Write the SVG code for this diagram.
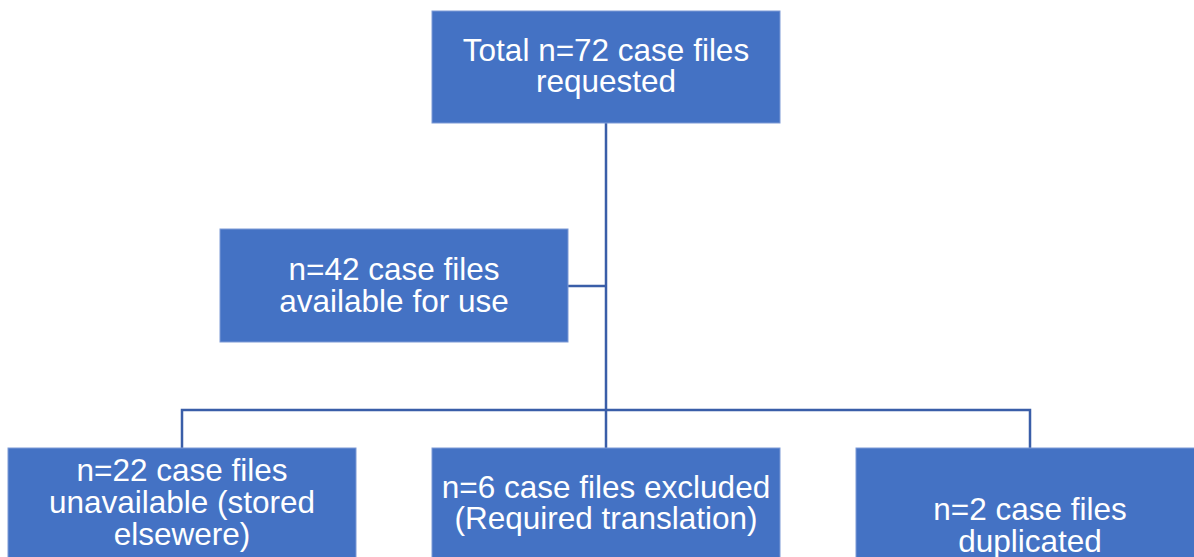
<svg xmlns="http://www.w3.org/2000/svg" width="1194" height="557" viewBox="0 0 1194 557">
<style>
.box{fill:#4472C4;stroke:#7D9AD6;stroke-width:1}
.lbl{font-family:"Liberation Sans",Arial,sans-serif;font-size:31.5px;fill:#FFFFFF;text-anchor:middle}
.conn{fill:none;stroke:#3A5EA8;stroke-width:2.5}
</style>
<rect width="1194" height="557" fill="#FFFFFF"/>
<g id="connectors">
<path class="conn" d="M606 123 V448"/>
<path class="conn" d="M568 286 H606"/>
<path class="conn" d="M182 448 V410 H1030 V448"/>
</g>
<g id="node-total">
<rect class="box" x="432" y="11" width="348" height="112"/>
<text class="lbl" x="606" y="61">Total n=72 case files</text>
<text class="lbl" x="606" y="92">requested</text>
</g>
<g id="node-available">
<rect class="box" x="220" y="229" width="348" height="113"/>
<text class="lbl" x="394" y="280">n=42 case files</text>
<text class="lbl" x="394" y="311.5">available for use</text>
</g>
<g id="node-unavailable">
<rect class="box" x="8" y="448" width="348" height="120"/>
<text class="lbl" x="182" y="481">n=22 case files</text>
<text class="lbl" x="182" y="513">unavailable (stored</text>
<text class="lbl" x="182" y="545">elsewere)</text>
</g>
<g id="node-excluded">
<rect class="box" x="432" y="448" width="348" height="120"/>
<text class="lbl" x="606" y="497.5">n=6 case files excluded</text>
<text class="lbl" x="606" y="528.5">(Required translation)</text>
</g>
<g id="node-duplicated">
<rect class="box" x="856" y="448" width="348" height="120"/>
<text class="lbl" x="1030" y="520">n=2 case files</text>
<text class="lbl" x="1030" y="551.5">duplicated</text>
</g>
</svg>
